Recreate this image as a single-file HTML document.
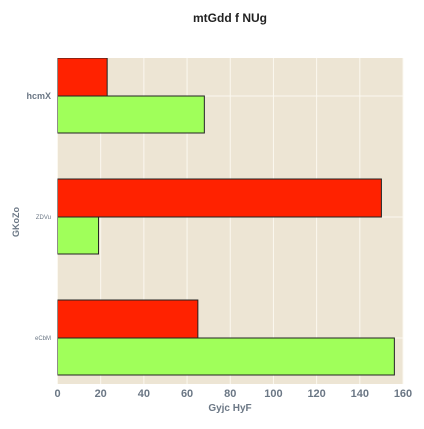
<!DOCTYPE html>
<html><head><meta charset="utf-8"><style>
body{margin:0;background:#fff;width:424px;height:424px;overflow:hidden}
text{font-family:"Liberation Sans",sans-serif}
</style></head><body>
<svg id="c" width="424" height="424">
<text x="230" y="22" text-anchor="middle" font-size="12" font-weight="bold" fill="#222">mtGdd f  NUg</text>
<rect x="57.5" y="58" width="345.5" height="326" fill="#ede5d4"/>
<g id="grid"></g>
<clipPath id="cp"><rect x="57.5" y="58" width="345.5" height="326"/></clipPath>
<g id="bars" clip-path="url(#cp)"></g>
<g id="ticks"></g>
<text x="230" y="411" text-anchor="middle" font-size="10" font-weight="bold" fill="#6b7785">Gyjc HyF</text>
<text transform="translate(19,222) rotate(-90)" text-anchor="middle" font-size="9" font-weight="bold" fill="#6b7785">GKoZo</text>
</svg>
<script>
const categories=["hcmX","ZDVu","eCbM"];
const redValues=[23,150,65];
const greenValues=[68,19,156];
const xTicks=[0,20,40,60,80,100,120,140,160];
const catFont=[9,6,6];
const ns="http://www.w3.org/2000/svg";
const x0=57.5,x1=403,xmax=160;
function xs(v){return x0+(x1-x0)*v/xmax;}
function yc(i){return 96+121*i;}
const svg=document.getElementById('c');
function mk(tag,attrs,parent){const e=document.createElementNS(ns,tag);for(const k in attrs)e.setAttribute(k,attrs[k]);parent.appendChild(e);return e;}
const grid=document.getElementById('grid'),bars=document.getElementById('bars'),ticks=document.getElementById('ticks');
xTicks.forEach(t=>{
  const l=mk('line',{x1:xs(t),x2:xs(t),y1:58,y2:384,stroke:'#fbf8f0','stroke-width':1},grid);
  
  
  const tx=mk('text',{x:xs(t),y:397,'text-anchor':'middle','font-size':11,'font-weight':'bold',fill:'#6b7785'},ticks);
  tx.textContent=t;
  
  
});
categories.forEach((c,i)=>{
  const g=mk('line',{x1:x0,x2:x1,y1:yc(i),y2:yc(i),stroke:'#fbf8f0','stroke-width':1},grid);
  
  
  const r=mk('rect',{x:x0,y:yc(i)-38,width:xs(redValues[i])-x0,height:38,fill:'#ff2200',stroke:'#222','stroke-width':1},bars);
  
  
  const gr=mk('rect',{x:x0,y:yc(i),width:xs(greenValues[i])-x0,height:37,fill:'#a0ff5a',stroke:'#222','stroke-width':1},bars);
  
  
  const t=mk('text',{x:51,y:yc(i)+catFont[i]/3,'text-anchor':'end','font-size':catFont[i],'font-weight':catFont[i]>7?'bold':'normal',fill:'#6b7785'},ticks);
  t.textContent=c;
  
  
});
</script>
</body></html>
